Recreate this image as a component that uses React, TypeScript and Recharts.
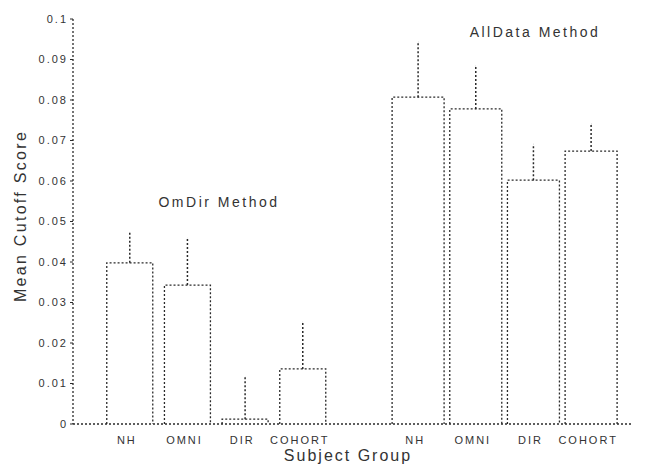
import React from "react";
import { BarChart, Bar, XAxis, YAxis, ErrorBar, Customized } from "recharts";

const categories = ["NH", "OMNI", "DIR", "COHORT", "", "NH", "OMNI", "DIR", "COHORT"];
const groups = [1, 1, 1, 1, 0, 2, 2, 2, 2];
const means: (number | null)[] = [0.0398, 0.0343, 0.0012, 0.0136, null, 0.0807, 0.0778, 0.0602, 0.0674];
const upperErrors: (number | null)[] = [0.0074, 0.0116, 0.0104, 0.0116, null, 0.0136, 0.0106, 0.0089, 0.0067];
const yTicks = [0, 0.01, 0.02, 0.03, 0.04, 0.05, 0.06, 0.07, 0.08, 0.09, 0.1];

const data = categories.map((label, i) => ({
  key: "c" + i,
  label,
  group: groups[i],
  mean: means[i],
  err: upperErrors[i] == null ? undefined : [0, upperErrors[i] as number],
}));

const INK = "#2a2a2a";
const DASH = "2 2";
const FONT = "'Liberation Sans', Arial, sans-serif";

const DottedBar = (props: any) => {
  const { x, y, width, height, payload } = props;
  if (payload == null || payload.mean == null) return null;
  const w = payload.group === 1 ? 46 : 52;
  const cx = x + width / 2;
  return (
    <path
      d={`M${cx - w / 2},${y + height} V${y} H${cx + w / 2} V${y + height}`}
      fill="none"
      stroke={INK}
      strokeWidth={1.3}
      strokeDasharray={DASH}
    />
  );
};

const XTick = (props: any) => {
  const { x, y, payload } = props;
  const label = categories[Number(String(payload.value).slice(1))];
  return (
    <text
      x={x - 3}
      y={y}
      dy="0.71em"
      textAnchor="middle"
      fontSize={11}
      fill="#333"
      fontFamily={FONT}
      letterSpacing={2}
    >
      {label}
    </text>
  );
};

const Annotations = () => (
  <g fontFamily={FONT} fill="#333">
    <text x={211} y={199} textAnchor="middle" fontSize={14} letterSpacing={2.5}>
      OmDir Method
    </text>
    <text x={527} y={29} textAnchor="middle" fontSize={14} letterSpacing={2.5}>
      AllData Method
    </text>
    <text
      x={0}
      y={0}
      transform="translate(18,208) rotate(-90)"
      textAnchor="middle"
      fontSize={16}
      letterSpacing={2.3}
    >
      Mean Cutoff Score
    </text>
    <text x={340} y={453} textAnchor="middle" fontSize={16} letterSpacing={2}>
      Subject Group
    </text>
  </g>
);

export default function App() {
  return (
    <BarChart
      width={637}
      height={456}
      data={data}
      margin={{ top: 11, right: 13, bottom: 0, left: 20 }}
    >
      <XAxis
        dataKey="key"
        type="category"
        height={40}
        interval={0}
        padding={{ left: 28, right: 12 }}
        tickLine={false}
        tickMargin={6}
        axisLine={{ stroke: INK, strokeDasharray: DASH, strokeWidth: 1.3 }}
        tick={<XTick />}
      />
      <YAxis
        width={45}
        domain={[0, 0.1]}
        ticks={yTicks}
        interval={0}
        tickSize={3}
        tickMargin={2}
        tickFormatter={(v: number) => (v === 0 ? "0" : String(+v.toFixed(2)))}
        axisLine={{ stroke: INK, strokeDasharray: DASH, strokeWidth: 1.3 }}
        tickLine={{ stroke: INK }}
        tick={{ fontSize: 11, fill: "#333", fontFamily: FONT, letterSpacing: 2 }}
      />
      <Bar dataKey="mean" isAnimationActive={false} shape={<DottedBar />}>
        <ErrorBar
          dataKey="err"
          width={0}
          stroke={INK}
          strokeWidth={1.5}
          strokeDasharray={DASH}
          direction="y"
        />
      </Bar>
      <Customized component={Annotations} />
    </BarChart>
  );
}
